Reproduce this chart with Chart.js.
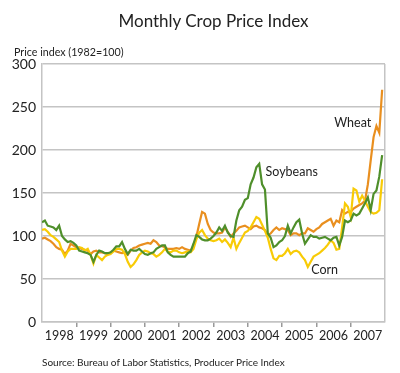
<!DOCTYPE html>
<html>
<head>
<meta charset="utf-8">
<script src="https://cdn.jsdelivr.net/npm/chart.js@4.4.1/dist/chart.umd.min.js"></script>
<style>
  body { margin: 0; background: #fff; }
  #wrap { position: relative; width: 400px; height: 373px; font-family: Lato, sans-serif; color: #222; }
  #wrap canvas { position: absolute; left: 0; top: 0; }
  .title { position: absolute; top: 10px; left: 42px; width: 343px; text-align: center; font-size: 17px; }
  .unit { position: absolute; left: 14px; top: 45px; font-size: 10.7px; }
  .source { position: absolute; left: 42px; top: 356px; font-size: 10px; }
</style>
</head>
<body>
<div id="wrap">
  <canvas id="crop-index" width="400" height="373"></canvas>
  <div class="title">Monthly Crop Price Index</div>
  <div class="unit">Price index (1982=100)</div>
  <div class="source">Source: Bureau of Labor Statistics, Producer Price Index</div>
</div>
<script>
// monthly values, Jan 1998 - Dec 2007 (1982=100)
const years = ["1998", "1999", "2000", "2001", "2002", "2003", "2004", "2005", "2006", "2007"];

const wheat = [
  97, 98, 96, 94, 91, 87, 85, 84, 79, 83, 91, 89,
  87, 86, 85, 84, 83, 79, 82, 83, 81, 81, 80, 79,
  80, 83, 82, 81, 80, 81, 78, 83, 86, 87, 89, 90,
  91, 92, 91, 95, 93, 89, 88, 87, 85, 85, 85, 86,
  85, 87, 85, 84, 83, 88, 99, 114, 128, 126, 114, 107,
  104, 103, 103, 104, 110, 105, 99, 103, 106, 110, 111, 112,
  110, 108, 111, 112, 110, 109, 107, 101, 103, 107, 110, 107,
  109, 108, 107, 101, 103, 103, 101, 103, 103, 109, 107, 105,
  108, 110, 114, 116, 118, 120, 112, 118, 116, 130, 126, 128,
  128, 132, 134, 136, 138, 141, 160, 188, 215, 228, 220, 270
];

const soybeans = [
  116, 118, 112, 111, 110, 107, 112, 100, 96, 93, 94, 92,
  89, 83, 82, 81, 80, 78, 70, 78, 83, 82, 80, 80,
  81, 84, 88, 88, 93, 85, 79, 84, 83, 83, 85, 82,
  79, 78, 80, 81, 85, 87, 89, 89, 81, 78, 76, 76,
  76, 76, 76, 80, 82, 91, 101, 99, 96, 95, 95, 97,
  100, 104, 110, 106, 112, 104, 100, 99, 118, 130, 134, 142,
  144, 160, 168, 180, 184, 160, 154, 103, 98, 87, 89, 93,
  95, 100, 112, 103, 110, 116, 119, 103, 91, 96, 101, 99,
  99, 97, 98, 99, 97, 95, 98, 99, 89, 99, 118, 116,
  118, 126, 124, 126, 132, 138, 145, 130, 149, 153, 169, 194
];

const corn = [
  107, 108, 105, 101, 99, 96, 93, 83, 76, 82, 85, 85,
  85, 87, 86, 83, 85, 78, 68, 78, 75, 72, 76, 78,
  79, 82, 85, 85, 84, 79, 70, 64, 67, 72, 78, 81,
  83, 82, 80, 79, 76, 78, 81, 85, 82, 81, 83, 83,
  81, 80, 81, 82, 81, 85, 96, 104, 107, 101, 97, 95,
  94, 95, 97, 93, 96, 92, 87, 98, 85, 92, 98, 104,
  106, 110, 116, 122, 120, 113, 106, 98, 85, 74, 72, 77,
  77, 80, 85, 79, 82, 83, 81, 76, 72, 64, 70, 76,
  78, 80, 83, 86, 90, 95, 92, 84, 85, 110, 138, 134,
  122, 155, 153, 140, 147, 141, 134, 128, 126, 127, 130, 166
];

const yTicks = [0, 50, 100, 150, 200, 250, 300];

// where the series names sit (month index, index value)
const seriesNotes = [
  { text: "Wheat", month: 115.2, value: 231, align: "right" },
  { text: "Soybeans", month: 78.2, value: 174, align: "left" },
  { text: "Corn", month: 94.2, value: 60, align: "left" },
];

const gridColor = "#c4c4c4";
const toPoints = (arr) => arr.map((v, i) => ({ x: i, y: v }));

const notesPlugin = {
  id: "seriesNotes",
  afterDatasetsDraw(chart) {
    const { ctx, scales } = chart;
    ctx.save();
    ctx.font = "12.5px Lato, sans-serif";
    ctx.fillStyle = "#222";
    ctx.textBaseline = "middle";
    for (const note of seriesNotes) {
      ctx.textAlign = note.align;
      ctx.fillText(note.text, scales.x.getPixelForValue(note.month), scales.y.getPixelForValue(note.value));
    }
    ctx.restore();
  },
};

const line = (label, data, color, order) => ({
  label,
  data: toPoints(data),
  borderColor: color,
  backgroundColor: color,
  borderWidth: 2.2,
  pointRadius: 0,
  tension: 0,
  order,
});

new Chart(document.getElementById("crop-index"), {
  type: "line",
  data: {
    datasets: [
      line("Soybeans", soybeans, "#4f8f2b", 1),
      line("Corn", corn, "#f8cb06", 2),
      line("Wheat", wheat, "#e98f1f", 3),
    ],
  },
  options: {
    responsive: false,
    animation: false,
    layout: { padding: { top: 64, right: 15, left: 0, bottom: 0 } },
    plugins: {
      legend: { display: false },
      tooltip: { enabled: false },
    },
    scales: {
      x: {
        type: "linear",
        min: 0,
        max: 120,
        afterFit: (s) => { s.height = 51; },
        afterBuildTicks: (s) => {
          s.ticks = Array.from({ length: 21 }, (_, i) => ({ value: i * 6 }));
        },
        ticks: {
          autoSkip: false,
          maxRotation: 0,
          padding: 1,
          color: "#222",
          font: { family: "Lato", size: 12.5 },
          callback: (v) => (v % 12 === 6 ? years[(v - 6) / 12] : ""),
        },
        grid: {
          lineWidth: 1.5,
          tickLength: 5,
          color: (c) => (c.tick && c.tick.value === 120 ? gridColor : "rgba(0,0,0,0)"),
          tickColor: (c) => {
            const v = c.tick ? c.tick.value : 0;
            return v % 12 === 0 && v > 0 && v < 120 ? "#999" : "rgba(0,0,0,0)";
          },
        },
        border: { display: true, color: gridColor, width: 1.5 },
      },
      y: {
        min: 0,
        max: 300,
        afterFit: (s) => { s.width = 42; },
        afterBuildTicks: (s) => {
          s.ticks = yTicks.map((v) => ({ value: v }));
        },
        ticks: {
          padding: 6,
          color: "#222",
          font: { family: "Lato", size: 14 },
        },
        grid: { color: gridColor, lineWidth: 1.5, drawTicks: false },
        border: { display: true, color: gridColor, width: 1.5 },
      },
    },
  },
  plugins: [notesPlugin],
});
</script>
</body>
</html>
